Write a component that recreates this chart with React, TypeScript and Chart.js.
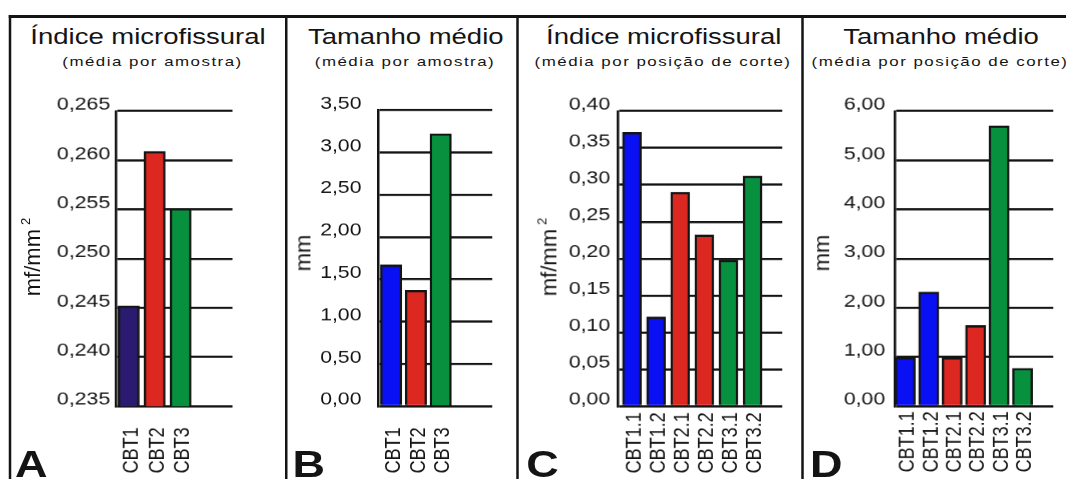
import React, { useEffect, useRef } from 'react';
import { Chart, registerables } from 'chart.js';

Chart.register(...registerables);

// ---------- data ----------
const catsA = ['CBT1', 'CBT2', 'CBT3'];
const indexBySample = [0.2452, 0.2609, 0.2551];
const yTicksA = [0.235, 0.24, 0.245, 0.25, 0.255, 0.26, 0.265];

const catsB = ['CBT1', 'CBT2', 'CBT3'];
const sizeBySample = [1.67, 1.37, 3.22];
const yTicksB = [0, 0.5, 1, 1.5, 2, 2.5, 3, 3.5];

const catsC = ['CBT1.1', 'CBT1.2', 'CBT2.1', 'CBT2.2', 'CBT3.1', 'CBT3.2'];
const indexByCut = [0.371, 0.121, 0.29, 0.232, 0.198, 0.312];
const yTicksC = [0, 0.05, 0.1, 0.15, 0.2, 0.25, 0.3, 0.35, 0.4];

const catsD = ['CBT1.1', 'CBT1.2', 'CBT2.1', 'CBT2.2', 'CBT3.1', 'CBT3.2'];
const sizeByCut = [0.99, 2.32, 0.99, 1.64, 5.7, 0.77];
const yTicksD = [0, 1, 2, 3, 4, 5, 6];

// ---------- styles ----------
const FONT = "'Liberation Sans', Arial, Helvetica, sans-serif";
const INK = '#141414';
const NAVY = '#2a1b70';
const BLUE = '#0a10f4';
const RED = '#dc2820';
const GREEN = '#07913f';
const STRETCH = 1.25;

const colorsA = [NAVY, RED, GREEN];
const colorsB = [BLUE, RED, GREEN];
const colorsCD = [BLUE, BLUE, RED, RED, GREEN, GREEN];

type PanelCfg = {
  cats: string[];
  values: number[];
  colors: string[];
  yTicks: number[];
  dec: number;
  left: number;
  w: number;
  padTop: number;
  padRight: number;
  yW: number;
  xH: number;
  xMin: number;
  xMax: number;
  barW: number;
  yPad: number;
  xPad: number;
};

const panels: PanelCfg[] = [
  { cats: catsA, values: indexBySample, colors: colorsA, yTicks: yTicksA, dec: 3,
    left: 10, w: 186, padTop: 31, padRight: 10.4, yW: 82.4, xH: 73.3,
    xMin: -0.5, xMax: 4.0, barW: 16.8, yPad: 4.4, xPad: 21 },
  { cats: catsB, values: sizeBySample, colors: colorsB, yTicks: yTicksB, dec: 2,
    left: 232, w: 172, padTop: 30, padRight: 10.2, yW: 70.2, xH: 73.3,
    xMin: -0.54, xMax: 4.08, barW: 17, yPad: 13, xPad: 21 },
  { cats: catsC, values: indexByCut, colors: colorsCD, yTicks: yTicksC, dec: 2,
    left: 418, w: 218, padTop: 31, padRight: 10.6, yW: 76.2, xH: 73.3,
    xMin: -0.58, xMax: 6.23, barW: 15, yPad: 6.2, xPad: 6 },
  { cats: catsD, values: sizeByCut, colors: colorsCD, yTicks: yTicksD, dec: 2,
    left: 646, w: 206, padTop: 31, padRight: 9.8, yW: 69.6, xH: 73.3,
    xMin: -0.45, xMax: 6.31, barW: 16, yPad: 7.6, xPad: 5 },
];

function BarPanel({ cfg }: { cfg: PanelCfg }) {
  const ref = useRef<HTMLCanvasElement>(null);
  useEffect(() => {
    const canvas = ref.current;
    if (!canvas) return;
    const chart = new Chart(canvas, {
      type: 'bar',
      data: {
        datasets: [
          {
            data: cfg.values.map((v, i) => ({ x: i, y: v })),
            backgroundColor: cfg.colors,
            borderColor: INK,
            borderWidth: { top: 2.3, left: 1.9, right: 1.9, bottom: 0 },
            borderSkipped: 'start',
            barThickness: cfg.barW,
          } as any,
        ],
      },
      options: {
        responsive: false,
        animation: false,
        devicePixelRatio: STRETCH,
        events: [],
        layout: { padding: { top: cfg.padTop, right: cfg.padRight, left: 0, bottom: 0 } },
        plugins: { legend: { display: false }, tooltip: { enabled: false } },
        scales: {
          x: {
            type: 'linear',
            min: cfg.xMin,
            max: cfg.xMax,
            offset: false,
            bounds: 'data',
            grid: { display: false, drawTicks: false, offset: false },
            border: { display: false },
            afterBuildTicks: (s: any) => {
              s.ticks = cfg.cats.map((_, i) => ({ value: i }));
            },
            afterFit: (s: any) => {
              s.height = cfg.xH;
            },
            ticks: {
              autoSkip: false,
              maxRotation: 90,
              minRotation: 90,
              padding: cfg.xPad,
              labelOffset: 2,
              color: INK,
              font: { family: FONT, size: 18 },
              callback: (v: any) => cfg.cats[Math.round(Number(v))] ?? '',
            },
          },
          y: {
            type: 'linear',
            min: cfg.yTicks[0],
            max: cfg.yTicks[cfg.yTicks.length - 1],
            afterBuildTicks: (s: any) => {
              s.ticks = cfg.yTicks.map((v) => ({ value: v }));
            },
            afterFit: (s: any) => {
              s.width = cfg.yW;
            },
            grid: { color: INK, lineWidth: 2.2, drawTicks: false, tickLength: 0 },
            border: { display: true, color: INK, width: 2 },
            ticks: {
              padding: cfg.yPad,
              labelOffset: -6,
              color: INK,
              font: { family: FONT, size: 17 },
              callback: (v: any) => Number(v).toFixed(cfg.dec).replace('.', ','),
            },
          },
        } as any,
      },
    });
    return () => chart.destroy();
  }, [cfg]);
  return (
    <canvas
      ref={ref}
      width={cfg.w}
      height={399}
      style={{ position: 'absolute', left: cfg.left, top: 80 }}
    />
  );
}

const titles = [
  { t: 'Índice microfissural', s: '(média por amostra)', cx: 118.4, sx: 122 },
  { t: 'Tamanho médio', s: '(média por amostra)', cx: 324.6, sx: 324 },
  { t: 'Índice microfissural', s: '(média por posição de corte)', cx: 531, sx: 530.4 },
  { t: 'Tamanho médio', s: '(média por posição de corte)', cx: 752.8, sx: 752 },
];

const axisTitles = [
  { t: 'mf/mm', sup: true, cx: 25.8, cy: 257 },
  { t: 'mm', sup: false, cx: 243.4, cy: 252.5 },
  { t: 'mf/mm', sup: true, cx: 439, cy: 257 },
  { t: 'mm', sup: false, cx: 657.8, cy: 252.5 },
];

const letters = [
  { t: 'A', x: 12 },
  { t: 'B', x: 234 },
  { t: 'C', x: 421 },
  { t: 'D', x: 648 },
];

const lineStyle: React.CSSProperties = { position: 'absolute', background: INK };

export default function App() {
  return (
    <div
      style={{
        position: 'absolute',
        left: 0,
        top: 0,
        width: 852.8,
        height: 479,
        overflow: 'hidden',
        background: '#ffffff',
        transform: `scaleX(${STRETCH})`,
        transformOrigin: '0 0',
        fontFamily: FONT,
        color: INK,
      }}
    >
      {/* frame */}
      <div style={{ ...lineStyle, left: 6.6, top: 15, width: 852.8 - 6.6, height: 2.5 }} />
      <div style={{ ...lineStyle, left: 6.6, top: 15, width: 2.2, height: 470 }} />
      <div style={{ ...lineStyle, left: 228, top: 15, width: 1.9, height: 470 }} />
      <div style={{ ...lineStyle, left: 413.4, top: 15, width: 2.1, height: 470 }} />
      <div style={{ ...lineStyle, left: 640.8, top: 15, width: 2.1, height: 470 }} />

      {panels.map((p, i) => (
        <BarPanel key={i} cfg={p} />
      ))}

      {titles.map((t, i) => (
        <React.Fragment key={i}>
          <div
            style={{
              position: 'absolute',
              left: t.cx,
              top: 26.1,
              transform: 'translateX(-50%)',
              fontSize: 22,
              lineHeight: 1,
              whiteSpace: 'nowrap',
            }}
          >
            {t.t}
          </div>
          <div
            style={{
              position: 'absolute',
              left: t.sx,
              top: 55.3,
              transform: 'translateX(-50%)',
              fontSize: 13.5,
              letterSpacing: 1.2,
              lineHeight: 1,
              whiteSpace: 'nowrap',
            }}
          >
            {t.s}
          </div>
        </React.Fragment>
      ))}

      {axisTitles.map((a, i) => (
        <div
          key={i}
          style={{
            position: 'absolute',
            left: a.cx,
            top: a.cy,
            transform: 'translate(-50%, -50%) rotate(-90deg) scaleY(0.82)',
            fontSize: 22,
            lineHeight: 1,
            whiteSpace: 'nowrap',
          }}
        >
          {a.t}
          {a.sup && (
            <span style={{ fontSize: 13, position: 'relative', top: -9, marginLeft: 4 }}>2</span>
          )}
        </div>
      ))}

      {letters.map((l, i) => (
        <div
          key={i}
          style={{
            position: 'absolute',
            left: l.x,
            top: 447,
            fontSize: 36,
            fontWeight: 'bold',
            lineHeight: 1,
          }}
        >
          {l.t}
        </div>
      ))}
    </div>
  );
}
